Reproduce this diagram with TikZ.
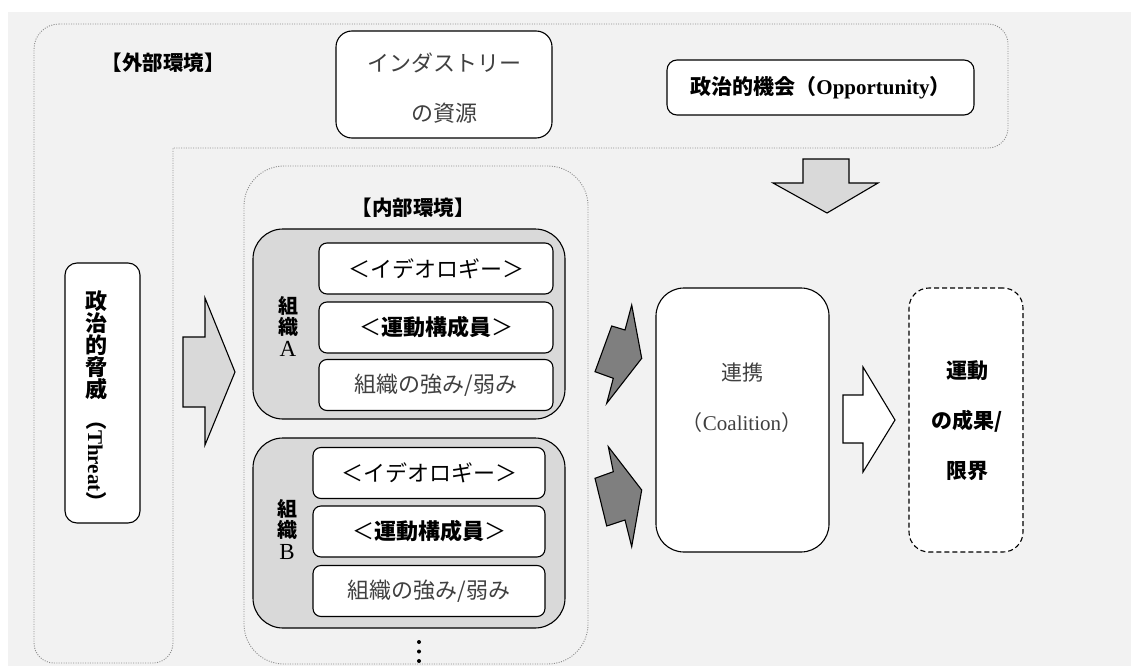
\documentclass[tikz,border=0pt]{standalone}
\usepackage{fontspec}
\setmainfont{Liberation Serif}
\newfontfamily\jp{Noto Sans CJK JP}
\definecolor{bgc}{HTML}{F2F2F2}
\definecolor{orgfill}{HTML}{D9D9D9}
\definecolor{lightarrow}{HTML}{D9D9D9}
\definecolor{darkarrow}{HTML}{7F7F7F}
\definecolor{txtg}{HTML}{404040}
\definecolor{envc}{HTML}{8C8C8C}
\begin{document}
\begin{tikzpicture}[x=1pt,y=-1pt,
  every node/.style={inner sep=0pt, outer sep=0pt},
  envline/.style={draw=envc, line width=0.9pt, dash pattern=on 1pt off 1.4pt},
  rbox/.style={draw=black, line width=1.1pt, fill=white, rounded corners=#1},
  orgbox/.style={draw=black, line width=1.1pt, fill=orgfill, rounded corners=30pt, minimum width=312pt, minimum height=190pt},
  rowbox/.style={draw=black, line width=1.1pt, fill=white, rounded corners=8pt, minimum height=51pt},
  blk/.style={draw=black, line width=1.1pt, line join=miter},
  lbl/.style={font=\jp\bfseries\fontsize{20.5}{24}\selectfont},
  rowtxt/.style={font=\jp\fontsize{22}{26}\selectfont},
  orglbl/.style={font=\jp\bfseries\fontsize{20}{21.5}\selectfont, align=center}
]
\fill[white] (0,0) rectangle (1131,666);
\useasboundingbox (0,0) rectangle (1131,666);
\fill[bgc] (8,12) rectangle (1131,666);

% external environment (L-shaped)
\draw[envline] (59,24) -- (988,24) arc(270:360:20) -- (1008,128) arc(0:90:20)
  -- (173,148) -- (173,643) arc(0:90:20) -- (54,663) arc(90:180:20)
  -- (34,49) arc(180:270:25) -- cycle;

% internal environment
\node[envline, rounded corners=40pt, minimum width=344pt, minimum height=498pt] (inenv) at (416,415) {};

\node[lbl] (outlbl) at (163,63) {【外部環境】};
\node[lbl] (inlbl) at (413,208) {【内部環境】};

% industry resources
\node[rbox=16pt, minimum width=216pt, minimum height=107pt] (ind) at (444,84.5) {};
\node[font=\jp\fontsize{22}{25}\selectfont, text=txtg] (ind1) at (444,63) {インダストリー};
\node[font=\jp\fontsize{22}{25}\selectfont, text=txtg] (ind2) at (444,113) {の資源};

% opportunity
\node[rbox=10pt, minimum width=307pt, minimum height=55pt, font=\fontsize{21}{25}\selectfont] (opp) at (820.5,87.5)
  {{\jp\bfseries 政治的機会（}{\bfseries Opportunity}{\jp\bfseries ）}};

% threat
\node[rbox=12pt, minimum width=75pt, minimum height=260pt] (threat) at (102.5,393) {};
\node[font=\jp\bfseries\fontsize{22}{22}\selectfont, align=center] (thr1) at (96,345) {政\\治\\的\\脅\\威};
\node[rotate=-90, font=\fontsize{21}{24}\selectfont] (thr2) at (96,461) {{\jp\bfseries （}{\bfseries Threat}{\jp\bfseries ）}};

% organisation A
\node[orgbox] (orgA) at (409,324) {};
\node[orglbl] (labA) at (288,326) {組\\織\\{\rmfamily\mdseries\fontsize{23}{21.5}\selectfont A}};
\node[rowbox, minimum width=234pt] (a1) at (436,268.5) {};
\node[rowbox, minimum width=234pt] (a2) at (436,327.5) {};
\node[rowbox, minimum width=234pt] (a3) at (436,385) {};
\node[rowtxt] at (a1) {＜イデオロギー＞};
\node[rowtxt] at (a2) {＜{\bfseries 運動構成員}＞};
\node[rowtxt, text=txtg] at (a3) {組織の強み/弱み};

% organisation B
\node[orgbox] (orgB) at (409,533) {};
\node[orglbl] (labB) at (287,529) {組\\織\\{\rmfamily\mdseries\fontsize{23}{21.5}\selectfont B}};
\node[rowbox, minimum width=232pt] (b1) at (429,473) {};
\node[rowbox, minimum width=232pt] (b2) at (429,531.5) {};
\node[rowbox, minimum width=232pt] (b3) at (429,591) {};
\node[rowtxt] at (b1) {＜イデオロギー＞};
\node[rowtxt] at (b2) {＜{\bfseries 運動構成員}＞};
\node[rowtxt, text=txtg] at (b3) {組織の強み/弱み};

% dots
\fill (419,642) circle (2pt);
\fill (419,651.5) circle (2pt);
\fill (419,661) circle (2pt);

% coalition
\node[rbox=28pt, minimum width=173pt, minimum height=264pt] (coal) at (742.5,420) {};
\node[font=\jp\fontsize{21}{25}\selectfont, text=txtg] (coal1) at (742,373) {連携};
\node[font=\fontsize{21}{24}\selectfont, text=txtg] (coal2) at (742,423) {{\jp （}Coalition{\jp ）}};

% result
\node[draw=black, line width=1.1pt, dash pattern=on 5pt off 3pt, fill=white, rounded corners=20pt,
  minimum width=114pt, minimum height=264pt] (res) at (966,420) {};
\node[font=\jp\bfseries\fontsize{21}{50}\selectfont, align=center] (restxt) at (967,421) {運動\\の成果/\\限界};

% block arrows
\filldraw[blk, fill=lightarrow] (803,159) -- (849,159) -- (849,183) -- (878,183) -- (827,213) -- (773,183) -- (803,183) -- cycle;
\filldraw[blk, fill=lightarrow] (183,337) -- (205,337) -- (205,298) -- (235,372) -- (205,445) -- (205,407) -- (183,407) -- cycle;
\filldraw[blk, fill=white] (843,395) -- (863,395) -- (863,367) -- (895,420) -- (863,472) -- (863,443) -- (843,443) -- cycle;
\filldraw[blk, fill=darkarrow] (631.7,305) -- (641.7,358.3) -- (606.7,403.3) -- (613.3,378.3) -- (595,371.7) -- (611.7,326) -- (625,330) -- cycle;
\filldraw[blk, fill=darkarrow] (608.3,446.7) -- (641.7,490) -- (631.7,546.7) -- (625,520) -- (606.7,526) -- (595,478.3) -- (613.3,471.7) -- cycle;
\end{tikzpicture}
\end{document}
